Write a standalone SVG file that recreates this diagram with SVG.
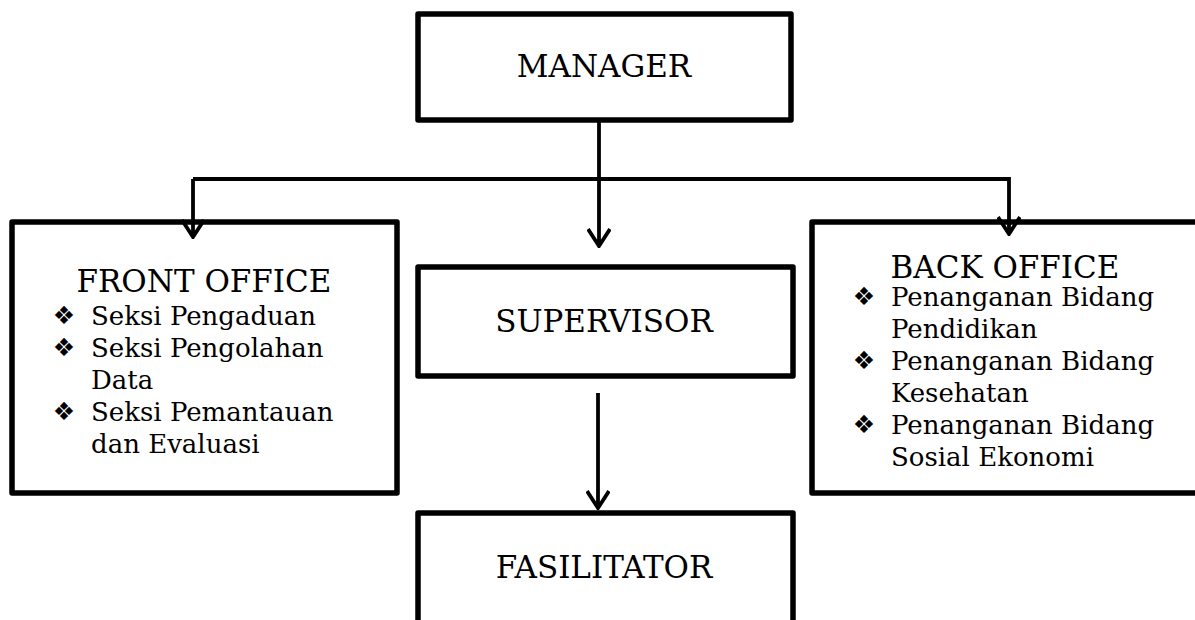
<svg xmlns="http://www.w3.org/2000/svg" width="1195" height="620" viewBox="0 0 1195 620">
<style>
.box{fill:#fff;stroke:#000;stroke-width:5.5;stroke-linejoin:round}
.conn{fill:none;stroke:#000;stroke-width:3.8}
.h{font-family:"DejaVu Serif","Liberation Serif",serif;font-size:31px;fill:#000}
.t{font-family:"DejaVu Serif","Liberation Serif",serif;font-size:26px;fill:#000}
.b{font-family:"DejaVu Sans","Noto Sans",sans-serif;font-size:25px;fill:#000}
</style>
<defs>
<marker id="arr" viewBox="0 0 20 24" markerUnits="userSpaceOnUse" markerWidth="20" markerHeight="24" refX="18" refY="12" orient="auto">
<path d="M1,1 L18,12 L1,23" fill="none" stroke="#000" stroke-width="3.8"/>
</marker>
</defs>
<g id="manager">
<rect class="box" x="418" y="14" width="373" height="106"/>
<text class="h" x="604" y="77" text-anchor="middle">MANAGER</text>
</g>
<g id="front-office">
<rect class="box" x="12" y="222" width="385" height="271"/>
<text class="h" x="204" y="292" text-anchor="middle">FRONT OFFICE</text>
<text class="b" x="64" y="324" text-anchor="middle">❖</text>
<text class="t" x="91" y="325">Seksi Pengaduan</text>
<text class="b" x="64" y="356" text-anchor="middle">❖</text>
<text class="t" x="91" y="357">Seksi Pengolahan</text>
<text class="t" x="91" y="389">Data</text>
<text class="b" x="64" y="420" text-anchor="middle">❖</text>
<text class="t" x="91" y="421">Seksi Pemantauan</text>
<text class="t" x="91" y="453">dan Evaluasi</text>
</g>
<g id="supervisor">
<rect class="box" x="418" y="267" width="375" height="109"/>
<text class="h" x="604" y="332" text-anchor="middle">SUPERVISOR</text>
</g>
<g id="back-office">
<rect class="box" x="812" y="222" width="400" height="271"/>
<text class="h" x="1005" y="278" text-anchor="middle">BACK OFFICE</text>
<text class="b" x="864" y="305" text-anchor="middle">❖</text>
<text class="t" x="891" y="306">Penanganan Bidang</text>
<text class="t" x="891" y="338">Pendidikan</text>
<text class="b" x="864" y="369" text-anchor="middle">❖</text>
<text class="t" x="891" y="370">Penanganan Bidang</text>
<text class="t" x="891" y="402">Kesehatan</text>
<text class="b" x="864" y="433" text-anchor="middle">❖</text>
<text class="t" x="891" y="434">Penanganan Bidang</text>
<text class="t" x="891" y="466">Sosial Ekonomi</text>
</g>
<g id="fasilitator">
<rect class="box" x="418" y="513" width="375" height="120"/>
<text class="h" x="604" y="578" text-anchor="middle">FASILITATOR</text>
</g>
<g id="connectors">
<line class="conn" x1="599" y1="122" x2="599" y2="246" marker-end="url(#arr)"/>
<polyline class="conn" points="193,179 1009,179 1009,234" marker-end="url(#arr)"/>
<line class="conn" x1="193" y1="179" x2="193" y2="237" marker-end="url(#arr)"/>
<line class="conn" x1="598" y1="393" x2="598" y2="508" marker-end="url(#arr)"/>
</g>
</svg>
